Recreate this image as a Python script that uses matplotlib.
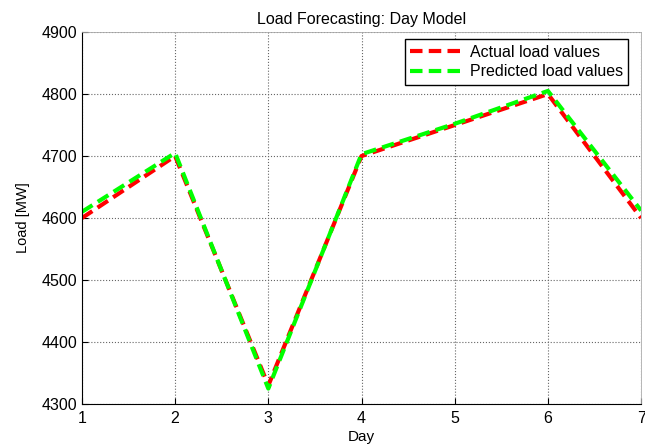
import numpy as np
import matplotlib
matplotlib.use('Agg')
import matplotlib.pyplot as plt

plt.rcParams['font.family'] = ['Liberation Sans', 'DejaVu Sans']

# data
days = [1, 2, 3, 4, 5, 6, 7]
actual = [4600, 4700, 4330, 4700, 4750, 4800, 4600]
predicted = [4610, 4705, 4325, 4703, 4752, 4805, 4612]
yticks = [4300, 4400, 4500, 4600, 4700, 4800, 4900]

fig = plt.figure(figsize=(6.45, 4.45), dpi=100)
ax = fig.add_axes([0.127, 0.092, 0.867, 0.836])

ax.plot(days, actual, color='red', linestyle='--', linewidth=3,
        dashes=(3, 1.5), label='Actual load values')
ax.plot(days, predicted, color='#00ff00', linestyle='--', linewidth=3,
        dashes=(3, 1.5), label='Predicted load values')

ax.set_xlim(1, 7)
ax.set_ylim(4300, 4900)
ax.set_xticks(days)
ax.set_yticks(yticks)
ax.grid(True, color='#666666', linestyle=':', linewidth=0.8)
ax.tick_params(direction='in', labelsize=11.5, length=4)
ax.tick_params(axis='x', pad=5)
for s in ['top', 'right']:
    ax.spines[s].set_color('#aaaaaa')
    ax.spines[s].set_linewidth(0.6)

ax.set_title('Load Forecasting: Day Model', fontsize=11.5)
ax.set_xlabel('Day', fontsize=11, labelpad=3)
ax.set_ylabel('Load [MW]', fontsize=10.5, labelpad=8)

leg = ax.legend(loc='upper right', bbox_to_anchor=(0.977, 0.981),
                borderaxespad=0, fontsize=11.5, fancybox=False,
                framealpha=1, edgecolor='black', handlelength=3.3,
                handletextpad=0.4, borderpad=0.35, labelspacing=0.3)
leg.get_frame().set_linewidth(1)

fig.savefig('out.png', dpi=100)
